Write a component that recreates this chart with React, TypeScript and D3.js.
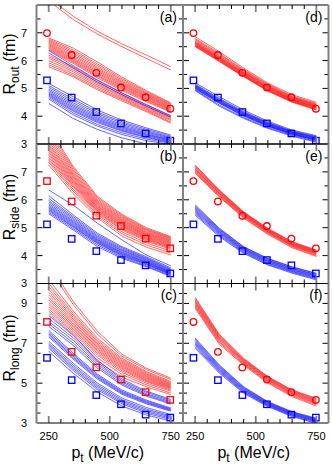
import React from 'react';
import * as d3 from 'd3';

// transverse momentum of the model curves and of the measured points (MeV/c)
const ptModel = [250, 350, 450, 550, 650, 750];
const ptData = [243, 344, 445, 546, 647, 748];

// measured radii (fm)
const routRed = [6.99, 6.2, 5.56, 5.03, 4.68, 4.27];
const routBlue = [5.29, 4.67, 4.15, 3.74, 3.38, 3.12];
const rsideRed = [6.67, 5.94, 5.43, 5.06, 4.61, 4.26];
const rsideBlue = [5.12, 4.6, 4.16, 3.84, 3.65, 3.36];
const rlongRed = [8.07, 6.57, 5.79, 5.18, 4.55, 4.16];
const rlongBlue = [6.27, 5.15, 4.4, 3.94, 3.42, 3.27];

// model curves, panel (a)
const aRed = [
  [6.82, 6.45, 5.95, 5.4, 4.92, 4.48],
  [6.78, 6.38, 5.88, 5.35, 4.88, 4.45],
  [6.74, 6.32, 5.82, 5.3, 4.84, 4.42],
  [6.7, 6.26, 5.76, 5.25, 4.8, 4.39],
  [6.66, 6.2, 5.71, 5.21, 4.77, 4.36],
  [6.62, 6.15, 5.66, 5.17, 4.73, 4.33],
  [6.58, 6.1, 5.61, 5.13, 4.7, 4.3],
  [6.54, 6.06, 5.56, 5.09, 4.67, 4.27],
  [6.5, 6.02, 5.52, 5.05, 4.63, 4.24],
  [6.46, 5.98, 5.47, 5.01, 4.6, 4.21],
  [6.42, 5.94, 5.43, 4.97, 4.56, 4.18],
  [6.38, 5.9, 5.38, 4.92, 4.52, 4.15],
  [6.2, 5.78, 5.28, 4.83, 4.4, 4.0],
  [6.14, 5.72, 5.22, 4.78, 4.36, 3.96],
  [6.08, 5.66, 5.17, 4.73, 4.32, 3.92],
  [6.0, 5.6, 5.12, 4.69, 4.28, 3.88],
  [5.92, 5.53, 5.06, 4.64, 4.24, 3.84],
  [5.85, 5.47, 5.0, 4.6, 4.2, 3.79],
  [5.78, 5.42, 4.95, 4.55, 4.16, 3.75],
  [8.25, 7.6, 7.05, 6.6, 6.2, 5.78],
  [8.15, 7.48, 6.95, 6.5, 6.08, 5.66],
];
const aBlue = [
  [6.36, 5.82, 5.3, 4.84, 4.42, 4.02],
  [6.28, 5.74, 5.23, 4.77, 4.36, 3.97],
  [5.18, 4.7, 4.22, 3.86, 3.58, 3.32],
  [5.1, 4.62, 4.15, 3.8, 3.53, 3.28],
  [5.04, 4.55, 4.09, 3.75, 3.48, 3.24],
  [4.98, 4.48, 4.03, 3.7, 3.44, 3.21],
  [4.93, 4.42, 3.98, 3.65, 3.4, 3.18],
  [4.88, 4.37, 3.93, 3.61, 3.36, 3.15],
  [4.84, 4.32, 3.89, 3.57, 3.33, 3.13],
  [4.8, 4.27, 3.85, 3.53, 3.3, 3.1],
  [4.76, 4.22, 3.81, 3.49, 3.26, 3.07],
  [4.72, 4.18, 3.77, 3.46, 3.23, 3.05],
  [4.67, 4.12, 3.7, 3.4, 3.18, 3.02],
  [4.62, 4.05, 3.64, 3.34, 3.12, 2.98],
  [4.46, 3.92, 3.52, 3.22, 3.0, 2.85],
];

// panel (b)
const bRed = [
  [8.6, 7.2, 6.12, 5.48, 5.0, 4.68],
  [8.5, 7.14, 6.07, 5.44, 4.96, 4.65],
  [8.4, 7.08, 6.02, 5.4, 4.93, 4.62],
  [8.3, 7.02, 5.97, 5.36, 4.9, 4.59],
  [8.2, 6.96, 5.93, 5.32, 4.86, 4.56],
  [8.1, 6.91, 5.89, 5.28, 4.83, 4.53],
  [8.02, 6.86, 5.85, 5.25, 4.8, 4.5],
  [7.95, 6.82, 5.81, 5.21, 4.77, 4.47],
  [7.88, 6.77, 5.77, 5.18, 4.74, 4.44],
  [7.82, 6.72, 5.74, 5.14, 4.71, 4.41],
  [7.76, 6.68, 5.7, 5.11, 4.68, 4.38],
  [7.7, 6.63, 5.67, 5.07, 4.65, 4.35],
  [7.64, 6.59, 5.63, 5.04, 4.62, 4.32],
  [7.58, 6.54, 5.6, 5.0, 4.59, 4.29],
  [7.52, 6.5, 5.56, 4.96, 4.56, 4.26],
  [7.46, 6.45, 5.52, 4.92, 4.52, 4.22],
  [7.4, 6.38, 5.47, 4.85, 4.46, 4.16],
  [7.34, 6.31, 5.41, 4.78, 4.38, 4.09],
  [7.25, 6.22, 5.35, 4.7, 4.3, 4.02],
];
const bBlue = [
  [6.35, 5.81, 5.16, 4.56, 4.02, 3.63],
  [6.15, 5.46, 4.8, 4.32, 3.96, 3.56],
  [6.05, 5.4, 4.75, 4.28, 3.92, 3.52],
  [5.98, 5.35, 4.7, 4.24, 3.89, 3.49],
  [5.92, 5.3, 4.66, 4.2, 3.86, 3.46],
  [5.86, 5.25, 4.62, 4.17, 3.83, 3.43],
  [5.81, 5.21, 4.58, 4.13, 3.8, 3.41],
  [5.76, 5.17, 4.55, 4.1, 3.77, 3.39],
  [5.72, 5.13, 4.52, 4.07, 3.75, 3.37],
  [5.68, 5.09, 4.49, 4.04, 3.72, 3.35],
  [5.64, 5.05, 4.46, 4.01, 3.7, 3.33],
  [5.6, 5.02, 4.43, 3.98, 3.67, 3.31],
  [5.55, 4.97, 4.38, 3.94, 3.63, 3.28],
  [5.5, 4.92, 4.32, 3.9, 3.6, 3.25],
];

// panel (c)
const cRed = [
  [11.0, 9.1, 7.6, 6.45, 5.75, 5.25],
  [10.8, 8.95, 7.45, 6.35, 5.68, 5.18],
  [10.2, 8.62, 7.25, 6.25, 5.58, 5.08],
  [10.0, 8.5, 7.15, 6.18, 5.52, 5.03],
  [9.85, 8.4, 7.07, 6.11, 5.47, 4.98],
  [9.7, 8.3, 6.99, 6.05, 5.42, 4.94],
  [9.56, 8.21, 6.92, 5.99, 5.37, 4.9],
  [9.43, 8.12, 6.85, 5.93, 5.32, 4.86],
  [9.3, 8.03, 6.78, 5.87, 5.27, 4.82],
  [9.18, 7.95, 6.71, 5.81, 5.22, 4.78],
  [9.06, 7.87, 6.64, 5.75, 5.17, 4.74],
  [8.95, 7.79, 6.57, 5.69, 5.12, 4.7],
  [8.84, 7.71, 6.49, 5.62, 5.07, 4.65],
  [8.72, 7.62, 6.4, 5.54, 5.0, 4.59],
  [8.61, 7.54, 6.27, 5.43, 4.91, 4.5],
  [8.5, 7.45, 6.1, 5.3, 4.82, 4.42],
];
const cBlue = [
  [8.4, 7.4, 6.15, 5.2, 4.6, 4.18],
  [8.25, 7.28, 6.05, 5.12, 4.54, 4.12],
  [8.1, 7.15, 5.95, 5.05, 4.47, 4.06],
  [7.98, 7.02, 5.85, 4.97, 4.41, 4.0],
  [7.85, 6.9, 5.75, 4.9, 4.35, 3.95],
  [7.65, 6.5, 5.45, 4.65, 4.15, 3.75],
  [7.55, 6.42, 5.38, 4.59, 4.1, 3.71],
  [7.47, 6.35, 5.32, 4.54, 4.05, 3.67],
  [7.4, 6.28, 5.26, 4.49, 4.01, 3.63],
  [7.32, 6.21, 5.2, 4.44, 3.96, 3.59],
  [7.1, 6.0, 5.0, 4.25, 3.78, 3.42],
  [7.0, 5.9, 4.91, 4.17, 3.7, 3.36],
  [6.92, 5.81, 4.83, 4.1, 3.63, 3.3],
  [6.84, 5.73, 4.75, 4.03, 3.56, 3.24],
  [6.75, 5.64, 4.67, 3.96, 3.49, 3.18],
  [6.6, 5.5, 4.55, 3.85, 3.4, 3.1],
];

// panel (d)
const dRed = [
  [6.86, 6.32, 5.73, 5.19, 4.77, 4.5],
  [6.8, 6.26, 5.68, 5.15, 4.73, 4.46],
  [6.76, 6.22, 5.65, 5.12, 4.7, 4.43],
  [6.72, 6.18, 5.62, 5.09, 4.68, 4.41],
  [6.69, 6.15, 5.59, 5.07, 4.66, 4.39],
  [6.66, 6.12, 5.57, 5.05, 4.64, 4.37],
  [6.64, 6.1, 5.55, 5.03, 4.62, 4.35],
  [6.62, 6.08, 5.53, 5.01, 4.6, 4.33],
  [6.6, 6.06, 5.51, 4.99, 4.59, 4.32],
  [6.58, 6.04, 5.49, 4.97, 4.57, 4.3],
  [6.56, 6.02, 5.47, 4.95, 4.55, 4.28],
  [6.54, 6.0, 5.45, 4.93, 4.53, 4.26],
  [6.52, 5.98, 5.44, 4.92, 4.52, 4.24],
  [6.5, 5.96, 5.42, 4.9, 4.5, 4.22],
];
const dBlue = [
  [5.2, 4.7, 4.22, 3.82, 3.5, 3.3],
  [5.15, 4.64, 4.17, 3.78, 3.47, 3.27],
  [5.12, 4.61, 4.14, 3.76, 3.45, 3.25],
  [5.1, 4.58, 4.12, 3.74, 3.43, 3.23],
  [5.08, 4.56, 4.1, 3.72, 3.42, 3.21],
  [5.06, 4.54, 4.08, 3.7, 3.4, 3.19],
  [5.04, 4.52, 4.06, 3.68, 3.38, 3.17],
  [5.02, 4.5, 4.04, 3.66, 3.37, 3.15],
  [5.0, 4.48, 4.02, 3.65, 3.35, 3.14],
  [4.98, 4.46, 4.0, 3.63, 3.34, 3.12],
  [4.95, 4.4, 3.95, 3.59, 3.31, 3.09],
  [4.92, 4.36, 3.92, 3.56, 3.28, 3.06],
];

// panel (e)
const eRed = [
  [7.25, 6.35, 5.57, 4.98, 4.5, 4.2],
  [7.22, 6.33, 5.55, 4.96, 4.48, 4.18],
  [7.19, 6.3, 5.53, 4.94, 4.46, 4.16],
  [7.16, 6.28, 5.51, 4.92, 4.44, 4.14],
  [7.13, 6.25, 5.49, 4.9, 4.42, 4.12],
  [7.1, 6.23, 5.47, 4.88, 4.4, 4.1],
  [7.07, 6.21, 5.45, 4.86, 4.38, 4.08],
  [7.04, 6.18, 5.42, 4.84, 4.36, 4.06],
  [7.01, 6.15, 5.4, 4.82, 4.34, 4.03],
  [6.98, 6.13, 5.37, 4.79, 4.31, 4.0],
  [6.95, 6.1, 5.34, 4.76, 4.28, 3.97],
];
const eBlue = [
  [5.82, 4.98, 4.32, 3.9, 3.6, 3.37],
  [5.78, 4.95, 4.3, 3.88, 3.58, 3.35],
  [5.74, 4.92, 4.27, 3.85, 3.55, 3.32],
  [5.7, 4.89, 4.25, 3.83, 3.53, 3.3],
  [5.66, 4.86, 4.22, 3.8, 3.5, 3.27],
  [5.62, 4.83, 4.2, 3.78, 3.48, 3.25],
  [5.58, 4.8, 4.17, 3.75, 3.45, 3.22],
  [5.54, 4.76, 4.14, 3.72, 3.43, 3.19],
  [5.5, 4.72, 4.11, 3.69, 3.4, 3.16],
  [5.45, 4.68, 4.08, 3.66, 3.37, 3.13],
];

// panel (f)
const fRed = [
  [9.3, 7.45, 6.25, 5.33, 4.66, 4.24],
  [9.24, 7.4, 6.21, 5.3, 4.63, 4.2],
  [9.18, 7.35, 6.17, 5.27, 4.6, 4.16],
  [9.12, 7.3, 6.14, 5.24, 4.57, 4.12],
  [9.06, 7.25, 6.1, 5.2, 4.53, 4.08],
  [9.0, 7.2, 6.07, 5.17, 4.5, 4.04],
  [8.94, 7.14, 6.03, 5.13, 4.46, 4.0],
  [8.88, 7.08, 5.99, 5.09, 4.42, 3.96],
  [8.82, 7.02, 5.95, 5.05, 4.37, 3.91],
  [8.75, 6.95, 5.9, 5.0, 4.32, 3.85],
];
const fBlue = [
  [7.26, 5.91, 4.82, 4.07, 3.57, 3.24],
  [7.2, 5.86, 4.78, 4.04, 3.54, 3.21],
  [7.14, 5.81, 4.74, 4.01, 3.51, 3.18],
  [7.08, 5.76, 4.7, 3.98, 3.48, 3.15],
  [7.02, 5.71, 4.66, 3.95, 3.45, 3.12],
  [6.96, 5.66, 4.62, 3.92, 3.42, 3.09],
  [6.9, 5.61, 4.58, 3.89, 3.39, 3.06],
  [6.83, 5.56, 4.54, 3.86, 3.36, 3.02],
  [6.75, 5.5, 4.49, 3.82, 3.32, 2.98],
];

const xTickLabels = [250, 500, 750];
const rows = [
  { top: 5, bottom: 144, yMax: 8, labels: [3, 4, 5, 6, 7], sub: 'out', labelY: 64 },
  { top: 144, bottom: 283.5, yMax: 8, labels: [3, 4, 5, 6, 7], sub: 'side', labelY: 207 },
  { top: 283.5, bottom: 423, yMax: 10, labels: [3, 5, 7, 9], sub: 'long', labelY: 348 },
];
const cols = [
  { left: 36.5, right: 183 },
  { left: 183, right: 328.5 },
];

const panels = [
  { id: 'a', row: 0, col: 0, red: aRed, blue: aBlue, redData: routRed, blueData: routBlue, redCircle: true },
  { id: 'b', row: 1, col: 0, red: bRed, blue: bBlue, redData: rsideRed, blueData: rsideBlue, redCircle: false },
  { id: 'c', row: 2, col: 0, red: cRed, blue: cBlue, redData: rlongRed, blueData: rlongBlue, redCircle: false },
  { id: 'd', row: 0, col: 1, red: dRed, blue: dBlue, redData: routRed, blueData: routBlue, redCircle: true },
  { id: 'e', row: 1, col: 1, red: eRed, blue: eBlue, redData: rsideRed, blueData: rsideBlue, redCircle: true },
  { id: 'f', row: 2, col: 1, red: fRed, blue: fBlue, redData: rlongRed, blueData: rlongBlue, redCircle: true },
];

const RED = '#ff0000';
const BLUE = '#0000ff';
const GRAY = '#808080';
const FONT = 'Liberation Sans, Arial, sans-serif';

function Panel({ p }) {
  const r = rows[p.row];
  const c = cols[p.col];
  const x = d3.scaleLinear().domain([200, 800]).range([c.left, c.right]);
  const y = d3.scaleLinear().domain([3, r.yMax]).range([r.bottom, r.top]);
  const line = d3
    .line()
    .x((d, i) => x(ptModel[i]))
    .y(d => y(d));
  const clipId = `clip-${p.id}`;
  const xTicks = d3.range(250, 800, 50);
  const yTicks = d3.range(3.5, r.yMax, 0.5);
  const sq = 6.4;

  return (
    <g>
      <clipPath id={clipId}>
        <rect x={c.left} y={r.top} width={c.right - c.left} height={r.bottom - r.top} />
      </clipPath>
      <g clipPath={`url(#${clipId})`} fill="none">
        {p.red.map((d, i) => (
          <path key={'r' + i} d={line(d)} stroke={RED} strokeWidth={0.6} />
        ))}
        {p.blue.map((d, i) => (
          <path key={'b' + i} d={line(d)} stroke={BLUE} strokeWidth={0.6} />
        ))}
        {p.redData.map((v, i) =>
          p.redCircle ? (
            <circle key={'rc' + i} cx={x(ptData[i])} cy={y(v)} r={3.3} stroke={RED} strokeWidth={1.3} />
          ) : (
            <rect key={'rs' + i} x={x(ptData[i]) - sq / 2} y={y(v) - sq / 2} width={sq} height={sq} stroke={RED} strokeWidth={1.3} />
          ),
        )}
        {p.blueData.map((v, i) => (
          <rect key={'bs' + i} x={x(ptData[i]) - sq / 2} y={y(v) - sq / 2} width={sq} height={sq} stroke={BLUE} strokeWidth={1.3} />
        ))}
      </g>

      {/* ticks, pointing inward on all four sides */}
      {xTicks.map(t => {
        const major = t % 250 === 0;
        const len = major ? 7 : 4;
        return (
          <g key={'xt' + t} stroke={major ? GRAY : '#000'} strokeWidth={major ? 1.8 : 1}>
            <line x1={x(t)} x2={x(t)} y1={r.bottom} y2={r.bottom - len} />
            <line x1={x(t)} x2={x(t)} y1={r.top} y2={r.top + len} />
          </g>
        );
      })}
      {yTicks.map(t => {
        const len = r.labels.includes(t) || (r.yMax === 8 && t % 1 === 0) ? 6 : 4;
        return (
          <g key={'yt' + t} stroke="#000" strokeWidth={1}>
            <line x1={c.left} x2={c.left + len} y1={y(t)} y2={y(t)} />
            <line x1={c.right} x2={c.right - len} y1={y(t)} y2={y(t)} />
          </g>
        );
      })}

      <line x1={c.left} x2={c.right} y1={r.top} y2={r.top} stroke="#000" strokeWidth={1} />
      <line x1={c.left} x2={c.right} y1={r.bottom} y2={r.bottom} stroke="#000" strokeWidth={1} />
      <line x1={c.left} x2={c.left} y1={r.top} y2={r.bottom} stroke={GRAY} strokeWidth={2} />
      <line x1={c.right} x2={c.right} y1={r.top} y2={r.bottom} stroke={GRAY} strokeWidth={2} />

      <text x={c.right - 6} y={r.top + 16.5} textAnchor="end" fontSize={14} fontFamily={FONT}>
        ({p.id})
      </text>

      {p.col === 0 &&
        r.labels.map(t => (
          <text key={'yl' + t} x={27} y={y(t)} dy="0.36em" textAnchor="end" fontSize={11} fontFamily={FONT}>
            {t}
          </text>
        ))}
      {p.row === 2 &&
        xTickLabels.map(t => (
          <text key={'xl' + t} x={x(t)} y={440} textAnchor="middle" fontSize={11} fontFamily={FONT}>
            {t}
          </text>
        ))}
      {p.row === 2 && (
        <text x={(c.left + c.right) / 2 - 2} y={458} textAnchor="middle" fontSize={16} fontFamily={FONT}>
          p<tspan fontSize={12} dy={4}>t</tspan>
          <tspan dy={-4}> (MeV/c)</tspan>
        </text>
      )}
      {p.col === 0 && (
        <text transform={`translate(15,${r.labelY}) rotate(-90)`} textAnchor="middle" fontSize={16} fontFamily={FONT}>
          R<tspan fontSize={12} dy={4}>{r.sub}</tspan>
          <tspan dy={-4}> (fm)</tspan>
        </text>
      )}
    </g>
  );
}

export default function App() {
  return (
    <svg
      width={332}
      height={465}
      style={{ position: 'absolute', left: 0, top: 0, background: '#fff' }}
    >
      {panels.map(p => (
        <Panel key={p.id} p={p} />
      ))}
    </svg>
  );
}
